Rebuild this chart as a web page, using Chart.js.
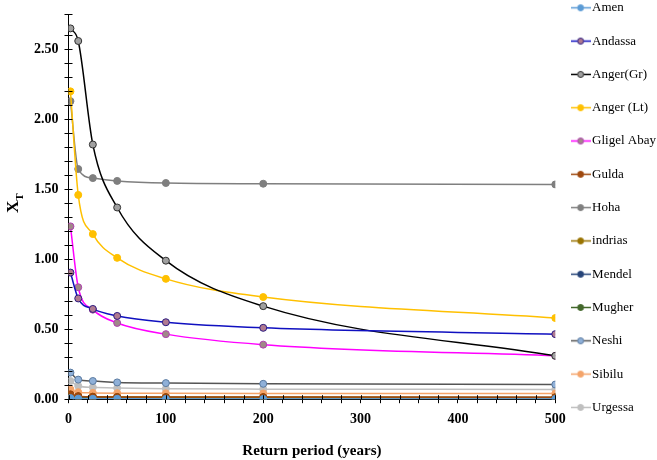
<!DOCTYPE html>
<html>
<head>
<meta charset="utf-8">
<script src="https://cdn.jsdelivr.net/npm/chart.js@4/dist/chart.umd.min.js"></script>
<style>
  body { margin: 0; background: #fff; }
  #wrap { width: 657px; height: 460px; }
</style>
</head>
<body>
<div id="wrap"><canvas id="xtChart" width="657" height="460"></canvas></div>
<script>
// return periods (years)
const returnPeriods = [2, 10, 25, 50, 100, 200, 500];
const stations = ['Amen', 'Andassa', 'Anger(Gr)', 'Anger (Lt)', 'Gligel Abay', 'Gulda', 'Hoha',
    'indrias', 'Mendel', 'Mugher', 'Neshi', 'Sibilu', 'Urgessa'];

// XT values per station
const amen = [0.008, 0.004, 0.003, 0.003, 0.002, 0.002, 0.002];
const andassa = [0.905, 0.72, 0.645, 0.595, 0.55, 0.51, 0.465];
const angerGr = [2.65, 2.56, 1.82, 1.37, 0.99, 0.665, 0.31];
const angerLt = [2.20, 1.46, 1.18, 1.01, 0.86, 0.73, 0.58];
const gligelAbay = [1.235, 0.80, 0.64, 0.545, 0.465, 0.39, 0.31];
const gulda = [0.035, 0.022, 0.018, 0.016, 0.015, 0.015, 0.014];
const hoha = [2.13, 1.645, 1.58, 1.56, 1.545, 1.54, 1.535];
const indrias = [0.03, 0.02, 0.017, 0.015, 0.014, 0.014, 0.013];
const mendel = [0.025, 0.018, 0.015, 0.013, 0.012, 0.012, 0.012];
const mugher = [0.02, 0.014, 0.012, 0.011, 0.010, 0.010, 0.010];
const neshi = [0.19, 0.14, 0.13, 0.12, 0.115, 0.11, 0.105];
const sibilu = [0.07, 0.05, 0.045, 0.043, 0.042, 0.041, 0.04];
const urgessa = [0.13, 0.095, 0.085, 0.08, 0.075, 0.072, 0.07];

const seriesValues = [amen, andassa, angerGr, angerLt, gligelAbay, gulda, hoha,
    indrias, mendel, mugher, neshi, sibilu, urgessa];

// [line, point fill, point border]
const colors = [
    ['#5b9bd5', '#5b9bd5', '#5b9bd5'],
    ['#1010c0', '#b07a90', '#2a1a80'],
    ['#000000', '#a0a0a0', '#303030'],
    ['#ffc000', '#ffc000', '#ffc000'],
    ['#ff00ff', '#a08888', '#b040b0'],
    ['#9e480e', '#9e480e', '#9e480e'],
    ['#7f7f7f', '#7f7f7f', '#7f7f7f'],
    ['#997300', '#997300', '#997300'],
    ['#264478', '#264478', '#264478'],
    ['#43682b', '#43682b', '#43682b'],
    ['#555555', '#8fb0d8', '#5a7aa0'],
    ['#f4a46a', '#f4a46a', '#f4a46a'],
    ['#bfbfbf', '#bfbfbf', '#bfbfbf']
];

const serif = 'Liberation Serif';

// small "line with a dot" legend symbol
function legendMarker(c) {
    const cv = document.createElement('canvas');
    cv.width = 20; cv.height = 9;
    const g = cv.getContext('2d');
    g.strokeStyle = c[0];
    g.lineWidth = 1.5;
    g.beginPath(); g.moveTo(0, 4.5); g.lineTo(20, 4.5); g.stroke();
    g.beginPath(); g.arc(10, 4.5, 3, 0, Math.PI * 2);
    g.fillStyle = c[1]; g.fill();
    g.lineWidth = 1; g.strokeStyle = c[2]; g.stroke();
    return cv;
}
const markers = colors.map(legendMarker);

const datasets = stations.map((name, i) => ({
    label: name,
    data: returnPeriods.map((x, j) => ({ x: x, y: seriesValues[i][j] })),
    borderColor: colors[i][0],
    backgroundColor: colors[i][1],
    pointBackgroundColor: colors[i][1],
    pointBorderColor: colors[i][2],
    pointBorderWidth: 1,
    pointRadius: 3.5,
    pointStyle: 'circle',
    borderWidth: 1.5,
    cubicInterpolationMode: 'monotone'
}));

// tick marks that cross the axis line, the X_T title, legend nudged up
const axisExtras = {
    id: 'axisExtras',
    afterLayout(chart) {
        chart.legend.top -= 25;
        chart.legend.bottom -= 25;
    },
    afterDraw(chart) {
        const ctx = chart.ctx;
        const xs = chart.scales.x, ys = chart.scales.y;
        ctx.save();
        ctx.strokeStyle = '#000';
        ctx.lineWidth = 1;
        ys.ticks.forEach((t, i) => {
            const py = Math.round(ys.getPixelForTick(i)) + 0.5;
            ctx.beginPath(); ctx.moveTo(xs.left, py); ctx.lineTo(xs.left + 4, py); ctx.stroke();
        });
        xs.ticks.forEach((t, i) => {
            const px = Math.round(xs.getPixelForTick(i)) + 0.5;
            ctx.beginPath(); ctx.moveTo(px, ys.bottom); ctx.lineTo(px, ys.bottom - 4); ctx.stroke();
        });
        ctx.translate(18, 213);
        ctx.rotate(-Math.PI / 2);
        ctx.fillStyle = '#000';
        ctx.font = 'bold 17px "' + serif + '"';
        ctx.fillText('X', 0, 0);
        const w = ctx.measureText('X').width;
        ctx.font = 'bold 11px "' + serif + '"';
        ctx.fillText('T', w, 5);
        ctx.restore();
    }
};

new Chart(document.getElementById('xtChart').getContext('2d'), {
    type: 'line',
    data: { datasets: datasets },
    options: {
        responsive: false,
        devicePixelRatio: 1,
        animation: false,
        layout: { padding: { left: 28, top: 6, right: -9, bottom: 0 } },
        plugins: {
            legend: {
                position: 'right',
                align: 'start',
                labels: {
                    usePointStyle: true,
                    pointStyleWidth: 10,
                    color: '#000',
                    font: { family: serif, size: 13 },
                    padding: 20.3,
                    generateLabels: chart => {
                        const items = Chart.defaults.plugins.legend.labels.generateLabels(chart);
                        items.forEach(it => { it.pointStyle = markers[it.datasetIndex]; });
                        return items;
                    }
                }
            },
            tooltip: { enabled: false }
        },
        scales: {
            x: {
                type: 'linear',
                min: 0,
                max: 500,
                border: { color: '#000', width: 1 },
                grid: { drawOnChartArea: false, color: '#000', tickLength: 4 },
                ticks: {
                    stepSize: 20,
                    autoSkip: false,
                    maxRotation: 0,
                    color: '#000',
                    padding: 8,
                    font: { family: serif, size: 14, weight: 'bold' },
                    callback: v => (v % 100 === 0 ? String(v) : '')
                },
                title: {
                    display: true,
                    text: 'Return period (years)',
                    color: '#000',
                    font: { family: serif, size: 15, weight: 'bold' },
                    padding: { top: 6, bottom: 0 }
                }
            },
            y: {
                min: 0,
                max: 2.75,
                border: { color: '#000', width: 1 },
                grid: { drawOnChartArea: false, color: '#000', tickLength: 4 },
                ticks: {
                    stepSize: 0.1,
                    autoSkip: false,
                    color: '#000',
                    padding: 6,
                    font: { family: serif, size: 14, weight: 'bold' },
                    callback: v => {
                        const r = v / 0.5;
                        return Math.abs(r - Math.round(r)) < 1e-6 ? v.toFixed(2) : '';
                    }
                }
            }
        }
    },
    plugins: [axisExtras]
});
</script>
</body>
</html>
